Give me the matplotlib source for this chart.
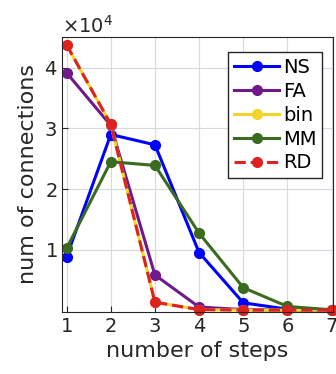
import matplotlib
matplotlib.use('Agg')
import matplotlib.pyplot as plt
from matplotlib.ticker import ScalarFormatter

# dados
passos = [1, 2, 3, 4, 5, 6, 7]
ns = [8800, 29000, 27300, 9500, 1200, 150, 0]
fa = [39200, 30500, 5800, 500, 80, 0, 0]
binario = [43800, 30700, 1300, 80, 0, 0, 0]
mm = [10200, 24500, 23900, 12700, 3700, 600, 50]
rd = [43800, 30700, 1300, 80, 0, 0, 0]

fig = plt.figure(figsize=(3.36, 3.74), dpi=100)
ax = fig.add_axes([0.185, 0.166, 0.806, 0.735])

ax.plot(passos, ns, '-o', color='#0000ff', lw=2.2, ms=7, label='NS', clip_on=False)
ax.plot(passos, fa, '-o', color='#6e1a8a', lw=2.2, ms=7, label='FA', clip_on=False)
ax.plot(passos, binario, '-o', color='#f2d52a', lw=2.2, ms=7, label='bin', clip_on=False)
ax.plot(passos, mm, '-o', color='#3a6b1e', lw=2.2, ms=7, label='MM', clip_on=False)
ax.plot(passos, rd, '--o', color='#dd2222', lw=2.2, ms=7, label='RD', clip_on=False)

ax.set_xlim(0.9, 7.03)
ax.set_ylim(-300, 45100)
ax.set_xticks(passos)
ax.set_yticks([10000, 20000, 30000, 40000])

fmt = ScalarFormatter(useMathText=True)
fmt.set_powerlimits((0, 0))
ax.yaxis.set_major_formatter(fmt)
ax.yaxis.get_offset_text().set_fontsize(14)
ax.yaxis.get_offset_text().set_color('#262626')

ax.tick_params(direction='in', labelsize=14, colors='#262626', length=4)
ax.grid(True, color='#d5d9e0', lw=0.8)
for s in ax.spines.values():
    s.set_color('#262626')

ax.set_xlabel('number of steps', fontsize=16, color='#262626')
ax.set_ylabel('num of connections', fontsize=16, color='#262626')

leg = ax.legend(loc='upper right', fontsize=14, handlelength=2.3, handletextpad=0.2,
                labelspacing=0.25, borderpad=0.3, fancybox=False, framealpha=1,
                borderaxespad=0, bbox_to_anchor=(0.96, 0.945))
leg.get_frame().set_edgecolor('#262626')
leg.get_frame().set_linewidth(1.0)

plt.savefig('out.png', dpi=100)
